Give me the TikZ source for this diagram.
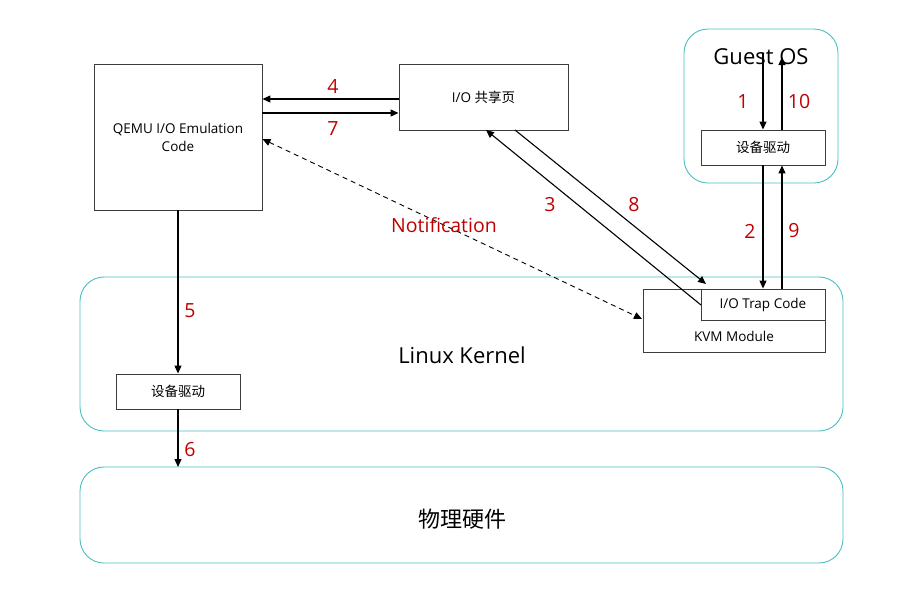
\documentclass[tikz,border=0pt]{standalone}
\usepackage{fontspec}
\setmainfont{Open Sans}
\newfontfamily\cjk{Noto Sans CJK SC}
\usetikzlibrary{arrows.meta}
\definecolor{teal1}{RGB}{75,190,192}
\definecolor{red1}{RGB}{192,0,0}
\definecolor{gray1}{RGB}{60,60,60}
\tikzset{
  x=1pt,y=-1pt,
  container/.style={draw=teal1,line width=0.9pt,rounded corners=24pt},
  boxn/.style={draw=gray1,line width=0.9pt,fill=white,inner sep=0pt,font=\fontsize{13.5}{18}\selectfont,align=center},
  arr/.style={line width=1.1pt,-{Triangle[length=8pt,width=7pt]}},
  darr/.style={line width=0.9pt,dashed,dash pattern=on 5pt off 4pt,{Triangle[length=8pt,width=7pt]}-{Triangle[length=8pt,width=7pt]}},
  num/.style={text=red1,font=\fontsize{19.5}{22}\selectfont,inner sep=0pt},
  big/.style={font=\fontsize{22}{26}\selectfont,inner sep=0pt}
}
\begin{document}
\begin{tikzpicture}
\useasboundingbox (0,0) rectangle (908,590);
% containers
\draw[container] (684,29) rectangle (838,183);
\draw[container] (80,277) rectangle (843,431);
\draw[container] (80,467) rectangle (843,563);
\node[big] (guest) at (761,57) {Guest OS};
\node[big] (linux) at (462,355) {Linux Kernel};
\node[big] (hw) at (462,519) {\cjk 物理硬件};
% boxes
\node[boxn,minimum width=168pt,minimum height=146pt] (qemu) at (178,137) {QEMU I/O Emulation\\Code};
\node[boxn,minimum width=169pt,minimum height=66pt] (page) at (483.5,97) {I/O {\cjk 共享页}};
\node[boxn,minimum width=124pt,minimum height=35pt] (gdrv) at (763,147.5) {\cjk 设备驱动};
\node[boxn,minimum width=182pt,minimum height=63pt] (kvm) at (734,320.5) {};
\node[font=\fontsize{13.5}{18}\selectfont] (kvmt) at (734,336) {KVM Module};
\node[boxn,minimum width=124pt,minimum height=31pt] (trap) at (763,304.5) {I/O Trap Code};
\node[boxn,minimum width=124pt,minimum height=35pt] (ldrv) at (178,391.5) {\cjk 设备驱动};
% anchor coordinates
\coordinate (g1) at (763,53);
\coordinate (g10) at (782,57);
\coordinate (n8) at (706,284);
\coordinate (n3) at (701,305);
% arrows
\draw[arr] (g1) -- (gdrv.north -| g1);
\draw[arr] (gdrv.north -| g10) -- (g10);
\draw[arr] (gdrv.south -| g1) -- (trap.north -| g1);
\draw[arr] (trap.north -| g10) -- (gdrv.south -| g10);
\draw[arr] (page.west |- 0,99) -- (qemu.east |- 0,99);
\draw[arr] (qemu.east |- 0,113) -- (page.west |- 0,113);
\draw[arr] (n3) -- (486,130);
\draw[arr] (515,130) -- (n8);
\draw[darr] (qemu.east |- 0,139) -- (642,319);
\draw[arr] (qemu.south) -- (ldrv.north);
\draw[arr] (ldrv.south) -- (178,467);
% labels
\node[num] at (743,102) {1};
\node[num] at (799,102) {10};
\node[num] at (750,231) {2};
\node[num] at (794,231) {9};
\node[num] at (333,86) {4};
\node[num] at (333,129) {7};
\node[num] at (550,205) {3};
\node[num] at (634,205) {8};
\node[num] at (444,225) {Notification};
\node[num] at (190,311) {5};
\node[num] at (190,450) {6};
\end{tikzpicture}
\end{document}
